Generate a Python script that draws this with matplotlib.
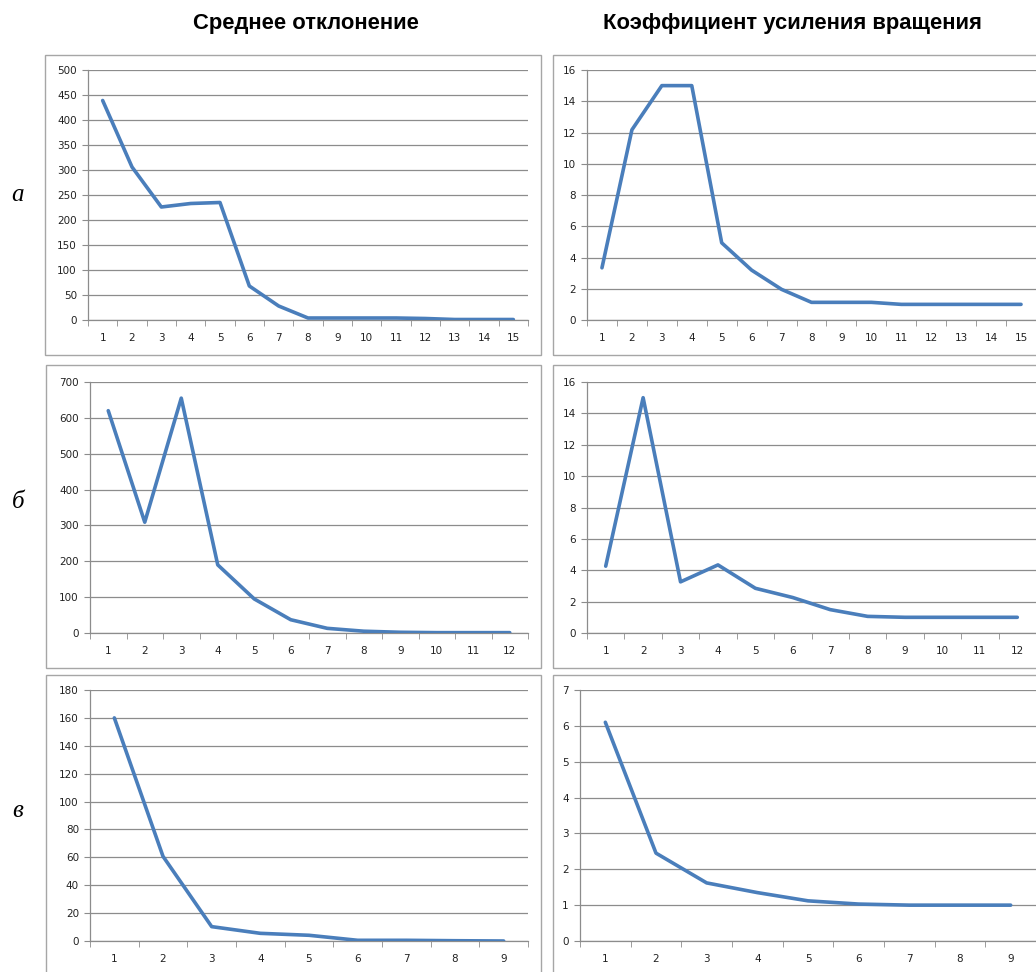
import matplotlib
matplotlib.use("Agg")
import matplotlib.pyplot as plt
from matplotlib.patches import Rectangle
import numpy as np

# mean deviation per step
dev_a = [439, 306, 226, 233, 235, 68, 28, 4, 4, 4, 4, 3, 1, 1, 1]
dev_b = [620, 309, 655, 190, 95, 37, 13, 5, 2, 1, 1, 1]
dev_v = [160, 60.7, 10.3, 5.5, 4.1, 0.5, 0.5, 0.2, 0]

# rotation gain per step
gain_a = [3.34, 12.17, 15.0, 15.0, 4.94, 3.19, 1.96, 1.13, 1.13, 1.13,
          1.0, 1.0, 1.0, 1.0, 1.0]
gain_b = [4.26, 15.0, 3.26, 4.34, 2.85, 2.26, 1.49, 1.06, 1.0, 1.0, 1.0, 1.0]
gain_v = [6.1, 2.45, 1.62, 1.35, 1.12, 1.03, 1.0, 1.0, 1.0]

# y axis ranges: (max, step)
dev_scales = [(500, 50), (700, 100), (180, 20)]
gain_scales = [(16, 2), (16, 2), (7, 1)]

col_titles = ["Среднее отклонение", "Коэффициент усиления вращения"]
row_labels = ["а", "б", "в"]

W, H = 1036, 972
LINE = "#4a7ebb"
GRID = "#8c8c8c"


def frac(x0, y0, x1, y1):
    """Pixel box (top-left origin) -> figure fraction rect."""
    return [x0 / W, 1 - y1 / H, (x1 - x0) / W, (y1 - y0) / H]


def draw_panel(fig, box, rect, values, ymax, ystep):
    fig.patches.append(Rectangle((box[0] / W, 1 - box[3] / H),
                                 (box[2] - box[0]) / W,
                                 (box[3] - box[1]) / H,
                                 transform=fig.transFigure, fill=False,
                                 edgecolor="#a6a6a6", linewidth=1.0))
    ax = fig.add_axes(frac(*rect))
    n = len(values)
    x = np.arange(1, n + 1)
    ax.plot(x, values, color=LINE, linewidth=2.6, solid_joinstyle="round",
            solid_capstyle="round", zorder=3)
    ax.set_xlim(0.5, n + 0.5)
    ax.set_ylim(0, ymax)
    ax.set_yticks(np.arange(0, ymax + ystep / 2, ystep))
    ax.set_xticks(x)
    ax.set_xticks(np.arange(0.5, n + 1, 1), minor=True)
    ax.tick_params(axis="x", which="major", length=0, pad=9,
                   labelsize=7.5, labelcolor="#222222")
    ax.tick_params(axis="x", which="minor", length=4, color=GRID,
                   direction="out")
    ax.tick_params(axis="y", length=4, color=GRID, pad=4,
                   labelsize=7.5, labelcolor="#222222")
    ax.yaxis.grid(True, color=GRID, linewidth=0.9)
    ax.set_axisbelow(True)
    for side in ("top", "right"):
        ax.spines[side].set_visible(False)
    for side in ("left", "bottom"):
        ax.spines[side].set_color(GRID)
        ax.spines[side].set_linewidth(0.9)
    return ax


def main():
    fig = plt.figure(figsize=(W / 100, H / 100), dpi=100)
    fig.patch.set_facecolor("white")

    boxes_left = [(45, 55, 541, 355), (46, 365, 541, 668), (46, 675, 541, 980)]
    boxes_right = [(553, 55, 1045, 355), (553, 365, 1045, 668),
                   (553, 675, 1045, 980)]
    axes_left = [(88, 70, 528, 320), (90, 382, 528, 633), (90, 690, 528, 941)]
    axes_right = [(587, 70, 1036, 320), (587, 382, 1036, 633),
                  (580, 690, 1036, 941)]

    devs = [dev_a, dev_b, dev_v]
    gains = [gain_a, gain_b, gain_v]
    for i in range(3):
        draw_panel(fig, boxes_left[i], axes_left[i], devs[i], *dev_scales[i])
        draw_panel(fig, boxes_right[i], axes_right[i], gains[i],
                   *gain_scales[i])

    fig.text(306 / W, 1 - 24 / H, col_titles[0], ha="center", va="center",
             family="Liberation Sans", weight="bold", fontsize=15.8)
    fig.text(792 / W, 1 - 24 / H, col_titles[1], ha="center", va="center",
             family="Liberation Sans", weight="bold", fontsize=15.8)

    for label, y in zip(row_labels, [195, 502, 811]):
        fig.text(18 / W, 1 - y / H, label, ha="center", va="center",
                 family="Liberation Serif", style="italic", fontsize=18)

    fig.savefig("out.png", dpi=100)


if __name__ == "__main__":
    main()
